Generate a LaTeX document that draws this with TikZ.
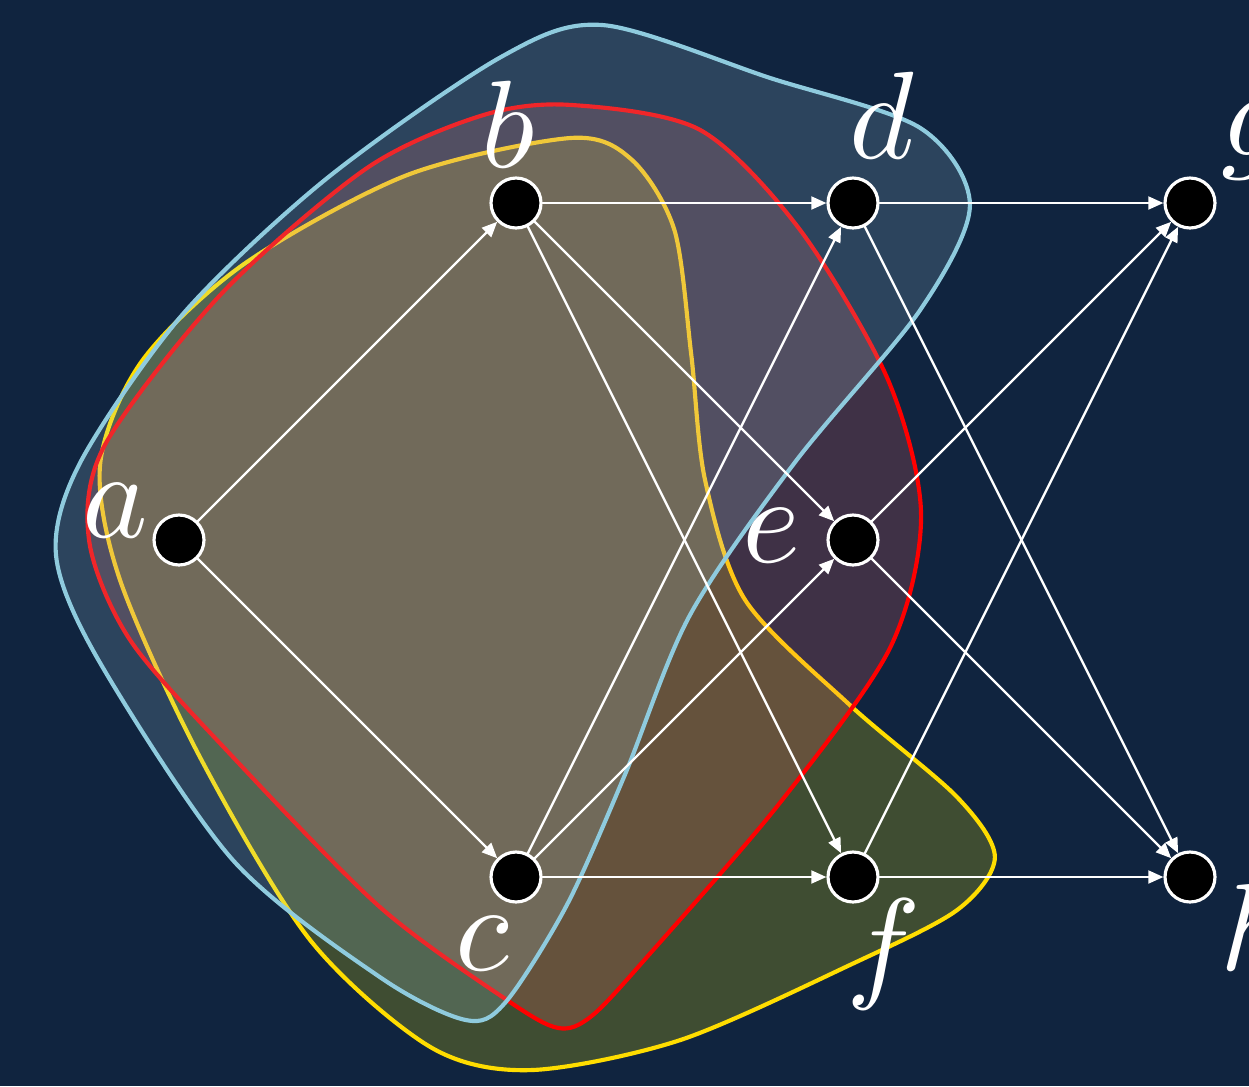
\documentclass[tikz,border=0pt]{standalone}
\usepackage{graphicx}
\usetikzlibrary{arrows.meta}
\definecolor{fondo}{RGB}{16,36,63}
\definecolor{bordeazul}{RGB}{143,203,222}
\definecolor{rellenoazul}{RGB}{173,216,230}
\definecolor{bordeamarillo}{RGB}{255,221,0}
\definecolor{rellenorojo}{RGB}{255,102,102}
\newcommand{\rotulo}[1]{\scalebox{3.15}{$#1$}}

\begin{document}
\begin{tikzpicture}[x=3cm, y=3cm, line cap=round,
    vertex/.style={circle, fill=black, draw=white, line width=0.8pt,
                   minimum size=4.45mm, inner sep=0pt},
    lbl/.style={text=white, inner sep=0pt},
    edge/.style={white, line width=0.6pt, -{Triangle[length=1.35mm, width=1.15mm]}}]
    % --- fondo y marco
    \fill[fondo] (-0.5312,-1.6202) rectangle (3.1751,1.6024);
    \useasboundingbox (-0.5312,-1.6202) rectangle (3.1751,1.6024);
    % --- conjunto amarillo
    \draw[bordeamarillo, line width=1.05pt, fill=yellow, fill opacity=0.2]
         plot[smooth cycle] coordinates {
         (1.163,1.193) (1.344,1.128) (1.470,0.920) (1.520,0.550) (1.561,0.178)
         (1.680,-0.178) (1.991,-0.490) (2.309,-0.763) (2.421,-0.941) (2.309,-1.098)
         (1.991,-1.261) (1.487,-1.484) (1.042,-1.573) (0.745,-1.504) (0.389,-1.187)
         (0.062,-0.644) (-0.175,-0.119) (-0.234,0.226) (-0.110,0.531) (0.193,0.819)
         (0.677,1.083)};
    % --- conjunto rojo
    \draw[red, line width=1.05pt, fill=rellenorojo, fill opacity=0.2]
         plot[smooth cycle] coordinates {
         (1.163,1.291) (1.546,1.217) (1.843,0.920) (2.104,0.475) (2.202,0.074)
         (2.110,-0.320) (1.783,-0.780) (1.389,-1.237) (1.225,-1.412) (1.125,-1.448)
         (0.973,-1.365) (0.596,-1.089) (0.160,-0.644) (-0.145,-0.297) (-0.267,0)
         (-0.220,0.282) (0.128,0.733) (0.558,1.104) (0.900,1.260)};
    % --- conjunto azul
    \draw[bordeazul, line width=1.05pt, fill=rellenoazul, fill opacity=0.18]
         plot[smooth cycle] coordinates {
         (1.258,1.528) (1.754,1.371) (2.199,1.223) (2.347,0.994) (2.199,0.682)
         (1.828,0.231) (1.516,-0.223) (1.323,-0.697) (1.151,-1.083) (0.967,-1.374)
         (0.849,-1.424) (0.596,-1.297) (0.160,-0.950) (-0.234,-0.365) (-0.365,-0.045)
         (-0.291,0.234) (0.012,0.671) (0.436,1.071) (0.955,1.433)};
    % --- vertices
    \node[vertex] (a) at (0,0) {};
    \node[vertex] (b) at (1,1) {};
    \node[vertex] (c) at (1,-1) {};
    \node[vertex] (d) at (2,1) {};
    \node[vertex] (e) at (2,0) {};
    \node[vertex] (f) at (2,-1) {};
    \node[vertex] (g) at (3,1) {};
    \node[vertex] (h) at (3,-1) {};
    % --- aristas
    \draw[edge] (a) -- (b);
    \draw[edge] (a) -- (c);
    \draw[edge] (b) -- (d);
    \draw[edge] (b) -- (e);
    \draw[edge] (b) -- (f);
    \draw[edge] (c) -- (d);
    \draw[edge] (c) -- (e);
    \draw[edge] (c) -- (f);
    \draw[edge] (d) -- (g);
    \draw[edge] (d) -- (h);
    \draw[edge] (e) -- (g);
    \draw[edge] (e) -- (h);
    \draw[edge] (f) -- (g);
    \draw[edge] (f) -- (h);
    % --- rotulos
    \node[lbl] (la) at ([shift={(-0.190,0.086)}]a) {\rotulo{a}};
    \node[lbl] (lb) at ([shift={(-0.024,0.234)}]b) {\rotulo{b}};
    \node[lbl] (lc) at ([shift={(-0.101,-0.199)}]c) {\rotulo{c}};
    \node[lbl] (ld) at ([shift={(0.086,0.261)}]d) {\rotulo{d}};
    \node[lbl] (le) at ([shift={(-0.243,0.012)}]e) {\rotulo{e}};
    \node[lbl] (lf) at ([shift={(0.092,-0.231)}]f) {\rotulo{f}};
    \node[lbl] (lg) at ([shift={(0.187,0.184)}]g) {\rotulo{g}};
    \node[lbl] (lh) at ([shift={(0.196,-0.148)}]h) {\rotulo{h}};
\end{tikzpicture}
\end{document}
